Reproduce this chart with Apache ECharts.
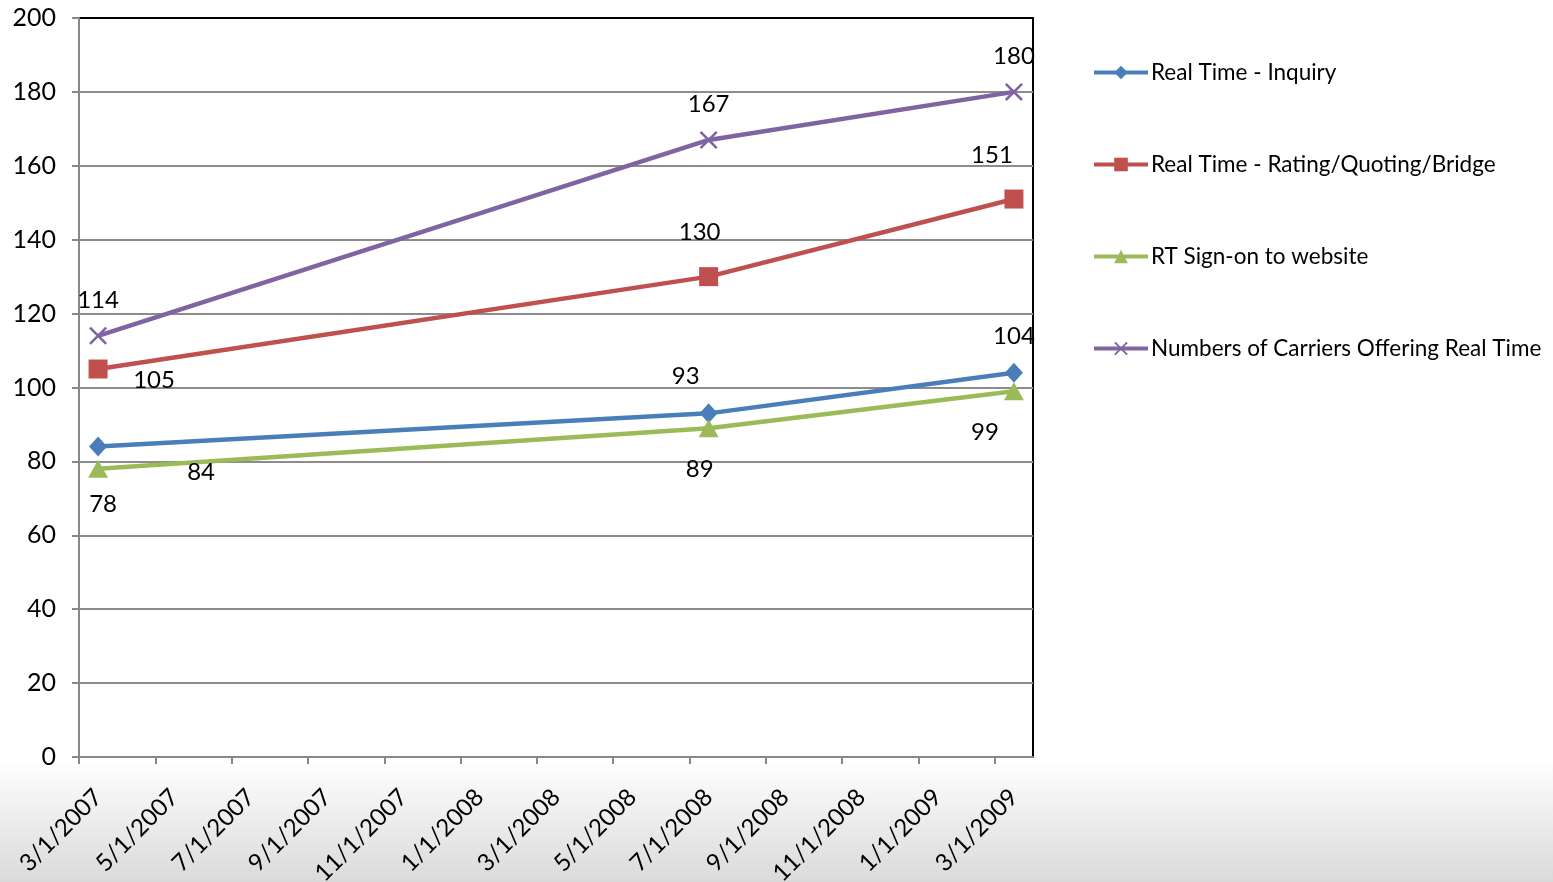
<!DOCTYPE html>
<html>
<head>
<meta charset="utf-8">
<script src="https://cdn.jsdelivr.net/npm/echarts@6/dist/echarts.min.js"></script>
<style>
  html, body { margin: 0; padding: 0; background: #fff; }
  #chart { width: 1553px; height: 882px; }
</style>
</head>
<body>
<div id="chart"></div>
<script>
// survey dates (year-month) and series values
const surveyDates = ['2007-03', '2008-07', '2009-03']
const seriesNames = [
  'Real Time - Inquiry',
  'Real Time - Rating/Quoting/Bridge',
  'RT Sign-on to website',
  'Numbers of Carriers Offering Real Time'
]
const inquiry = [84, 93, 104]
const rating = [105, 130, 151]
const signOn = [78, 89, 99]
const carriers = [114, 167, 180]

const startYear = 2007
const startMonth = 3

// month index from start of axis, centred in the month like Excel's date axis
const toMonthIndex = (s) => {
  const [y, m] = s.split('-').map(Number)
  return (y - startYear) * 12 + (m - startMonth) + 0.5
}
const monthLabel = (v) => {
  const total = startMonth - 1 + v
  const y = startYear + Math.floor(total / 12)
  const m = (total % 12) + 1
  return `${m}/1/${y}`
}

const xs = surveyDates.map(toMonthIndex)
const pairs = (vals) => vals.map((v, i) => [xs[i], v])

const crossPath = 'path://M0,1 L1,0 L10,9 L9,10 Z M9,0 L10,1 L1,10 L0,9 Z'
const font = 'Lato, "Liberation Sans", sans-serif'

const withLabels = (vals, offsets) => pairs(vals).map((d, i) => ({
  value: d,
  label: { offset: offsets[i] }
}))

const makeSeries = (name, vals, color, symbol, symbolSize, offsets) => ({
  name,
  type: 'line',
  data: withLabels(vals, offsets),
  symbol,
  symbolSize,
  lineStyle: { color, width: 4.5 },
  itemStyle: { color },
  label: {
    show: true,
    position: 'inside',
    color: '#000',
    fontSize: 24,
    fontFamily: font,
    formatter: (p) => String(p.value[1])
  },
  emphasis: { disabled: true },
  z: 3
})

const chart = echarts.init(document.getElementById('chart'))
chart.setOption({
  animation: false,
  backgroundColor: '#fff',
  textStyle: { fontFamily: font },
  graphic: [{
    type: 'rect',
    z: -10,
    shape: { x: 0, y: 758, width: 1553, height: 124 },
    style: {
      fill: new echarts.graphic.LinearGradient(0, 0, 0, 1, [
        { offset: 0, color: '#ffffff' },
        { offset: 1, color: '#dadada' }
      ])
    },
    silent: true
  }],
  grid: {
    left: 79, right: 520, top: 18, bottom: 125,
    outerBoundsMode: 'none',
    containLabel: false,
    show: true,
    borderColor: '#000',
    borderWidth: 2,
    backgroundColor: '#fff'
  },
  legend: {
    orient: 'vertical',
    left: 1092,
    top: 61,
    padding: 0,
    itemGap: 69,
    itemWidth: 54,
    itemHeight: 17,
    lineStyle: { width: 4 },
    textStyle: { fontSize: 22.5, lineHeight: 22, color: '#000', fontFamily: font, padding: [0, 0, 0, -2] },
    data: seriesNames
  },
  xAxis: {
    type: 'value',
    min: 0,
    max: 25,
    interval: 2,
    splitLine: { show: false },
    axisLine: { lineStyle: { color: '#888', width: 2 } },
    axisTick: { show: true, length: 7, lineStyle: { color: '#888', width: 2 } },
    axisLabel: {
      rotate: 45,
      margin: 17,
      align: 'right',
      verticalAlign: 'top',
      padding: [15, 0, 0, 0],
      fontSize: 24,
      color: '#000',
      fontFamily: font,
      showMaxLabel: false,
      formatter: (v) => (v % 2 === 0 && v <= 24 ? monthLabel(v) : '')
    }
  },
  yAxis: {
    type: 'value',
    min: 0,
    max: 200,
    interval: 20,
    splitLine: { showMaxLine: false, lineStyle: { color: '#8c8c8c', width: 2 } },
    axisLine: { show: true, lineStyle: { color: '#888', width: 2 } },
    axisTick: { show: true, length: 7, lineStyle: { color: '#888', width: 2 } },
    axisLabel: { fontSize: 25, color: '#000', fontFamily: font, margin: 23 }
  },
  series: [
    makeSeries(seriesNames[0], inquiry, '#4a7ebb', 'diamond', [18, 20],
      [[103, 26], [-23, -37], [0, -36]]),
    makeSeries(seriesNames[1], rating, '#c0504d', 'rect', 19,
      [[56, 11], [-9, -44], [-22, -44]]),
    makeSeries(seriesNames[2], signOn, '#9bbb59', 'triangle', [20, 18],
      [[5, 35], [-9, 41], [-29, 41]]),
    makeSeries(seriesNames[3], carriers, '#8064a2', crossPath, 18,
      [[0, -36], [0, -36], [0, -36]])
  ]
})
</script>
</body>
</html>
